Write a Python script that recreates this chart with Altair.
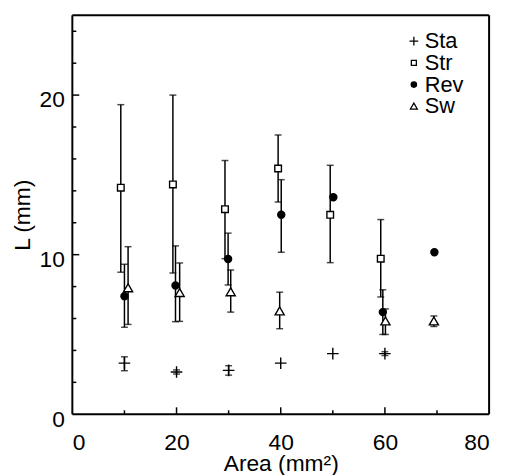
import altair as alt
import pandas as pd

# ---- data ----
series_names = ["Sta", "Str", "Rev", "Sw"]

sta_x = [10, 20, 30, 40, 50, 60]
sta_y = [3.2, 2.65, 2.75, 3.2, 3.8, 3.8]
sta_lo = [2.73, 2.52, 2.45, None, None, 3.68]
sta_hi = [3.6, 2.78, 3.04, None, None, 3.92]

str_x = [9.3, 19.3, 29.3, 39.5, 49.5, 59.2]
str_y = [14.2, 14.4, 12.85, 15.4, 12.5, 9.75]
str_lo = [8.9, 8.85, 9.75, 13.3, 9.5, 7.35]
str_hi = [19.4, 20.0, 15.9, 17.5, 15.6, 12.2]

rev_x = [10.0, 19.8, 29.9, 40.1, 50.1, 59.6, 69.5]
rev_y = [7.4, 8.07, 9.73, 12.5, 13.6, 6.4, 10.15]
rev_lo = [5.45, 5.8, 8.1, 10.15, None, 5.0, None]
rev_hi = [9.4, 10.55, 11.35, 14.7, None, 7.8, None]

sw_x = [10.7, 20.6, 30.4, 39.8, 60.1, 69.4]
sw_y = [7.9, 7.6, 7.65, 6.45, 5.82, 5.82]
sw_lo = [5.63, 5.82, 6.4, 5.36, 5.0, 5.5]
sw_hi = [10.5, 9.48, 9.04, 7.65, 6.6, 6.16]

x_major = [20, 40, 60]
x_minor = [10, 30, 50, 70]
y_major = [10, 20]
y_minor = [2, 4, 6, 8, 12, 14, 16, 18, 22, 24]

x_labels = [0, 20, 40, 60, 80]
y_labels = [0, 10, 20]

# ---- build tables ----
rows = []
for name, xs_, ys_, los, his in [
    ("Sta", sta_x, sta_y, sta_lo, sta_hi),
    ("Str", str_x, str_y, str_lo, str_hi),
    ("Rev", rev_x, rev_y, rev_lo, rev_hi),
    ("Sw", sw_x, sw_y, sw_lo, sw_hi),
]:
    for x, y, lo, hi in zip(xs_, ys_, los, his):
        rows.append({"series": name, "area": x, "L": y, "lo": lo, "hi": hi})
df = pd.DataFrame(rows)
err = df.dropna(subset=["lo"])

W, H = 421, 403
FONT = "Liberation Sans"
FS = 23
LW = 1.5

xs = alt.Scale(domain=[0, 80], nice=False)
ys = alt.Scale(domain=[0, 25], nice=False)

x_axis = alt.Axis(values=x_labels, ticks=False, tickSize=0, domain=False, grid=False,
                  labelFontSize=FS, labelPadding=18, title="Area (mm²)",
                  titleFontSize=FS, titleFontWeight="normal", titlePadding=-2,
                  labelColor="black", titleColor="black")
y_axis = alt.Axis(values=y_labels, ticks=False, tickSize=0, domain=False, grid=False,
                  labelFontSize=FS, labelPadding=8, labelOffset=5, title="L (mm)",
                  titleFontSize=FS, titleFontWeight="normal", titlePadding=5,
                  labelColor="black", titleColor="black")

bars = alt.Chart(err).mark_rule(color="black", strokeWidth=LW).encode(
    x=alt.X("area:Q", scale=xs, axis=x_axis),
    y=alt.Y("lo:Q", scale=ys, axis=y_axis),
    y2="hi:Q",
)
cap_hi = alt.Chart(err).mark_tick(orient="horizontal", size=7, thickness=LW, color="black").encode(
    x=alt.X("area:Q", scale=xs), y=alt.Y("hi:Q", scale=ys)
)
cap_lo = alt.Chart(err).mark_tick(orient="horizontal", size=7, thickness=LW, color="black").encode(
    x=alt.X("area:Q", scale=xs), y=alt.Y("lo:Q", scale=ys)
)

shape_range = [
    "M-1.4,0H1.4M0,-1.4V1.4",
    "M-0.8,-0.8H0.8V0.8H-0.8Z",
    "M0.85,0A0.85,0.85 0 1,1 -0.85,0A0.85,0.85 0 1,1 0.85,0Z",
    "M0,-1.05L1.1,0.85L-1.1,0.85Z",
]
legend = alt.Legend(orient="none", legendX=334, legendY=15, title=None,
                    labelFontSize=22, labelFont=FONT, symbolSize=40,
                    symbolStrokeWidth=1.3, symbolStrokeColor="black",
                    labelOffset=0, rowPadding=0, padding=0, labelColor="black")

points = alt.Chart(df).mark_point(strokeWidth=1.4, size=70, opacity=1).encode(
    x=alt.X("area:Q", scale=xs),
    y=alt.Y("L:Q", scale=ys),
    shape=alt.Shape("series:N", scale=alt.Scale(domain=series_names, range=shape_range),
                    sort=series_names, legend=legend),
    fill=alt.Fill("series:N", scale=alt.Scale(domain=series_names,
                                              range=["transparent", "white", "black", "white"]),
                  sort=series_names, legend=legend),
    stroke=alt.Stroke("series:N", scale=alt.Scale(domain=series_names,
                                                  range=["black", "black", "black", "black"]),
                      sort=series_names, legend=legend),
)

xt_major = alt.Chart(pd.DataFrame({"v": x_major})).mark_rule(color="black", strokeWidth=LW).encode(
    x=alt.X("v:Q", scale=xs), y=alt.value(H), y2=alt.value(H - 7))
xt_minor = alt.Chart(pd.DataFrame({"v": x_minor})).mark_rule(color="black", strokeWidth=LW).encode(
    x=alt.X("v:Q", scale=xs), y=alt.value(H), y2=alt.value(H - 4))
yt_major = alt.Chart(pd.DataFrame({"v": y_major})).mark_rule(color="black", strokeWidth=LW).encode(
    y=alt.Y("v:Q", scale=ys), x=alt.value(0), x2=alt.value(7))
yt_minor = alt.Chart(pd.DataFrame({"v": y_minor})).mark_rule(color="black", strokeWidth=LW).encode(
    y=alt.Y("v:Q", scale=ys), x=alt.value(0), x2=alt.value(4))

# plot frame on four sides
frame_df = pd.DataFrame({"side": ["frame"]})
FW = 2
frame_top = alt.Chart(frame_df).mark_rule(color="black", strokeWidth=FW).encode(
    x=alt.value(0), x2=alt.value(W), y=alt.value(0))
frame_bottom = alt.Chart(frame_df).mark_rule(color="black", strokeWidth=FW).encode(
    x=alt.value(0), x2=alt.value(W), y=alt.value(H))
frame_left = alt.Chart(frame_df).mark_rule(color="black", strokeWidth=FW).encode(
    y=alt.value(0), y2=alt.value(H), x=alt.value(0))
frame_right = alt.Chart(frame_df).mark_rule(color="black", strokeWidth=FW).encode(
    y=alt.value(0), y2=alt.value(H), x=alt.value(W))

chart = alt.layer(bars, cap_hi, cap_lo, points, xt_major, xt_minor, yt_major, yt_minor,
                  frame_top, frame_bottom, frame_left, frame_right).properties(
    width=W, height=H,
    autosize=alt.AutoSizeParams(type="none"),
    padding={"left": 65, "top": 5, "right": 10, "bottom": 60},
).configure(
    font=FONT, background="white"
).configure_view(
    stroke=None
)

chart.save("out.html", embed_options={"renderer": "svg", "actions": False})
